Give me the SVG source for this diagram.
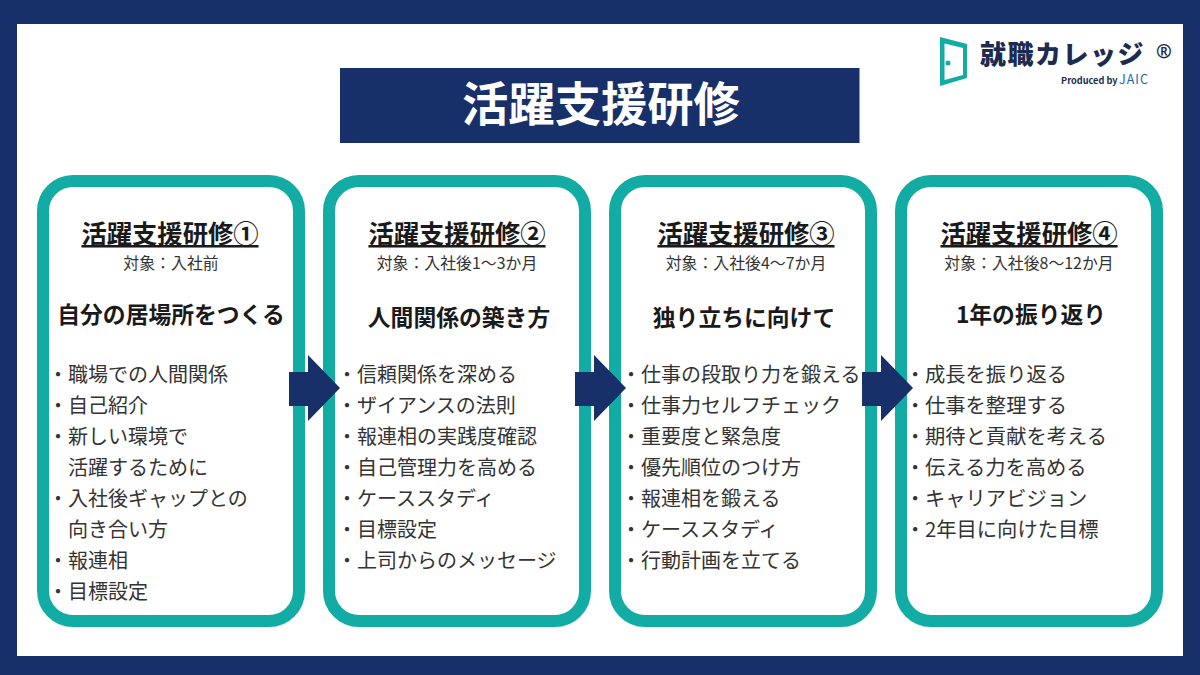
<svg xmlns="http://www.w3.org/2000/svg" width="1200" height="675" viewBox="0 0 1200 675">
<style>
text{font-family:"Noto Sans CJK JP","Noto Sans",sans-serif;fill:#1a1a1a}
.card{fill:#fff;stroke:#13aca4;stroke-width:12}
.h{font-size:25.3px;font-weight:700;text-anchor:middle;text-decoration:underline}
.s{font-size:15.9px;text-anchor:middle;fill:#333}
.t{font-size:22.8px;font-weight:700;text-anchor:middle}
.b{font-size:20px;fill:#333}
.b2{font-size:20.3px;fill:#333}
.a{fill:#17306a}
</style>
<rect width="1200" height="675" fill="#17306a"/>
<rect x="17" y="24" width="1166" height="632" fill="#fff"/>
<g id="title"><rect x="340" y="68" width="519.500" height="75" fill="#17306a"/>
<text x="601" y="121" font-size="46.3" font-weight="700" text-anchor="middle" style="fill:#fff">活躍支援研修</text></g>
<g id="logo">
<path d="M940 37L967 44V78L940 86Z M944.500 43.500V80L963 75V48Z" fill="#13aca4" fill-rule="evenodd"/>
<circle cx="948" cy="63" r="2.500" fill="#13aca4"/>
<text x="980" y="64" font-size="26" font-weight="900" letter-spacing="1.500" style="fill:#1c2b4f">就職カレッジ</text>
<text x="1164" y="58" font-size="19" font-weight="700" text-anchor="middle" style="fill:#1c2b4f;font-family:'Noto Sans',sans-serif">®</text>
<text x="1061" y="84" font-size="9.200" font-weight="700" style="fill:#1c2b4f">Produced by</text>
<text x="1119" y="84" font-size="12.500" letter-spacing="1" style="fill:#2c5fb0">JAIC</text>
</g>
<g id="card1"><rect class="card" x="43" y="181" width="256" height="440" rx="30"/>
<text class="h" x="170" y="243">活躍支援研修①</text>
<text class="s" x="171" y="269">対象：入社前</text>
<text class="t" x="171" y="323">自分の居場所をつくる</text>
<text class="b" x="48" y="382">・<tspan x="68">職場での人間関係</tspan></text>
<text class="b" x="48" y="413">・<tspan x="68">自己紹介</tspan></text>
<text class="b" x="48" y="444">・<tspan x="68">新しい環境で</tspan></text>
<text class="b" x="68" y="475">活躍するために</text>
<text class="b" x="48" y="506">・<tspan x="68">入社後ギャップとの</tspan></text>
<text class="b" x="68" y="537">向き合い方</text>
<text class="b" x="48" y="568">・<tspan x="68">報連相</tspan></text>
<text class="b" x="48" y="599">・<tspan x="68">目標設定</tspan></text></g>
<g id="card2"><rect class="card" x="329" y="181" width="256" height="440" rx="30"/>
<text class="h" x="457" y="243">活躍支援研修②</text>
<text class="s" x="457" y="269">対象：入社後1～3か月</text>
<text class="t" x="459" y="326">人間関係の築き方</text>
<text class="b" x="337" y="382">・<tspan x="357">信頼関係を深める</tspan></text>
<text class="b" x="337" y="413">・<tspan x="357">ザイアンスの法則</tspan></text>
<text class="b" x="337" y="444">・<tspan x="357">報連相の実践度確認</tspan></text>
<text class="b" x="337" y="475">・<tspan x="357">自己管理力を高める</tspan></text>
<text class="b" x="337" y="506">・<tspan x="357">ケーススタディ</tspan></text>
<text class="b" x="337" y="537">・<tspan x="357">目標設定</tspan></text>
<text class="b" x="337" y="568">・<tspan x="357">上司からのメッセージ</tspan></text></g>
<g id="card3"><rect class="card" x="615" y="181" width="256" height="440" rx="30"/>
<text class="h" x="746" y="243">活躍支援研修③</text>
<text class="s" x="746" y="269">対象：入社後4～7か月</text>
<text class="t" x="744" y="326">独り立ちに向けて</text>
<text class="b" x="621" y="382">・<tspan x="641">仕事の段取り力を鍛える</tspan></text>
<text class="b" x="621" y="413">・<tspan x="641">仕事力セルフチェック</tspan></text>
<text class="b" x="621" y="444">・<tspan x="641">重要度と緊急度</tspan></text>
<text class="b" x="621" y="475">・<tspan x="641">優先順位のつけ方</tspan></text>
<text class="b" x="621" y="506">・<tspan x="641">報連相を鍛える</tspan></text>
<text class="b" x="621" y="537">・<tspan x="641">ケーススタディ</tspan></text>
<text class="b" x="621" y="568">・<tspan x="641">行動計画を立てる</tspan></text></g>
<g id="card4"><rect class="card" x="901" y="181" width="256" height="440" rx="30"/>
<text class="h" x="1029" y="243">活躍支援研修④</text>
<text class="s" x="1029" y="269">対象：入社後8～12か月</text>
<text class="t" x="1031" y="323">1年の振り返り</text>
<text class="b2" x="905" y="382">・<tspan x="925">成長を振り返る</tspan></text>
<text class="b2" x="905" y="413">・<tspan x="925">仕事を整理する</tspan></text>
<text class="b2" x="905" y="444">・<tspan x="925">期待と貢献を考える</tspan></text>
<text class="b2" x="905" y="475">・<tspan x="925">伝える力を高める</tspan></text>
<text class="b2" x="905" y="506">・<tspan x="925">キャリアビジョン</tspan></text>
<text class="b2" x="905" y="537">・<tspan x="925">2年目に向けた目標</tspan></text></g>
<g id="connectors">
<path class="a" d="M289 372H308V355L340 388L308 421V406H289Z"/>
<path class="a" d="M575 372H594V355L626 388L594 421V406H575Z"/>
<path class="a" d="M862 372H881V355L913 388L881 421V406H862Z"/>
</g>
</svg>
